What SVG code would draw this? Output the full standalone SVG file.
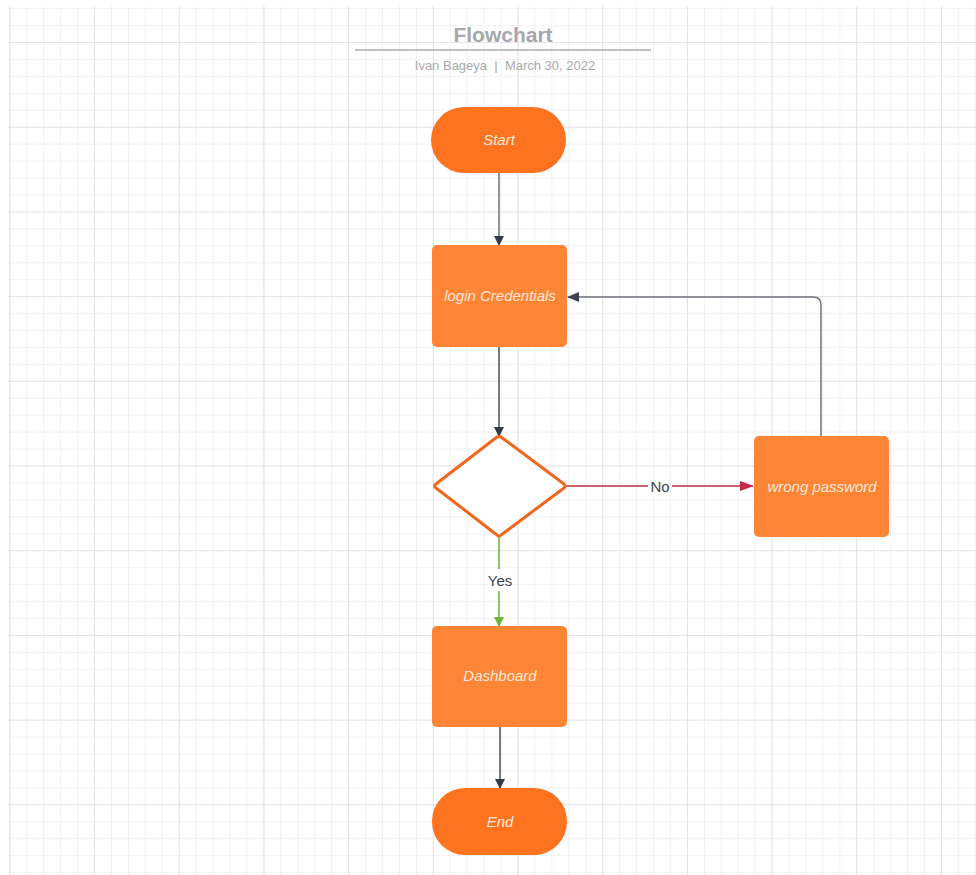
<svg xmlns="http://www.w3.org/2000/svg" width="976" height="875" viewBox="0 0 976 875">
<style>
.term{fill:#fd7320}
.proc{fill:#fe8535}
.lbl{font-family:"Liberation Sans",Arial,sans-serif;font-size:15px;font-style:italic;fill:#fde9dc;text-anchor:middle;dominant-baseline:central}
.edge{fill:none;stroke-width:1.5}
.elbl{font-family:"Liberation Sans",Arial,sans-serif;font-size:15px;fill:#3f4550;text-anchor:middle;dominant-baseline:central}
</style>
<defs>
<pattern id="minor" x="9.3" y="-42.7" width="16.94" height="16.94" patternUnits="userSpaceOnUse">
<path d="M0 0 H16.94 M0 0 V16.94" stroke="#e6e6e8" stroke-width="1" fill="none"/>
</pattern>
<pattern id="major" x="9.3" y="-42.7" width="84.7" height="84.7" patternUnits="userSpaceOnUse">
<path d="M0 0 H84.7 M0 0 V84.7" stroke="#d8d8dc" stroke-width="1.2" fill="none"/>
</pattern>
<marker id="ahDark" markerWidth="10" markerHeight="10" refX="9" refY="5" orient="auto" markerUnits="userSpaceOnUse"><path d="M0 0 L10 5 L0 10 Z" fill="#333a45"/></marker>
<marker id="ahGray" markerWidth="12" markerHeight="10" refX="11" refY="5" orient="auto" markerUnits="userSpaceOnUse"><path d="M0 0 L12 5 L0 10 Z" fill="#3d4450"/></marker>
<marker id="ahRed" markerWidth="14" markerHeight="10" refX="13" refY="5" orient="auto" markerUnits="userSpaceOnUse"><path d="M0 0 L14 5 L0 10 Z" fill="#c42a45"/></marker>
<marker id="ahGreen" markerWidth="10" markerHeight="12" refX="9" refY="5" orient="auto" markerUnits="userSpaceOnUse"><path d="M0 0 L10 5 L0 10 Z" fill="#6ab43c"/></marker>
</defs>
<rect width="976" height="875" fill="#ffffff"/>
<rect x="8" y="6" width="968" height="869" fill="url(#minor)"/>
<rect x="8" y="6" width="968" height="869" fill="url(#major)"/>

<g id="title">
<text x="503" y="34" font-family="'Liberation Sans',Arial,sans-serif" font-size="21" font-weight="bold" fill="#a4a7ab" text-anchor="middle" dominant-baseline="central">Flowchart</text>
<line x1="355" y1="50" x2="651" y2="50" stroke="#a9abae" stroke-width="1.5"/>
<text x="505" y="65" font-family="'Liberation Sans',Arial,sans-serif" font-size="13" fill="#a8aaad" text-anchor="middle" dominant-baseline="central" xml:space="preserve">Ivan Bageya  |  March 30, 2022</text>
</g>

<g id="connectors">
<line class="edge" x1="499" y1="173" x2="499" y2="245" stroke="#6e737a" marker-end="url(#ahDark)"/>
<line class="edge" x1="499" y1="347" x2="499" y2="436" stroke="#4a5059" marker-end="url(#ahDark)"/>
<path class="edge" d="M566 486 H648 M672 486 H753" stroke="#c42a45" marker-end="url(#ahRed)"/>
<text class="elbl" x="660" y="486">No</text>
<path class="edge" d="M821 436 V305 Q821 297 813 297 H568" stroke="#6e737a" marker-end="url(#ahGray)"/>
<path class="edge" d="M499 537 V569 M499 591 V626" stroke="#6ab43c" marker-end="url(#ahGreen)"/>
<text class="elbl" x="500" y="580">Yes</text>
<line class="edge" x1="500" y1="727" x2="500" y2="788" stroke="#4a5059" marker-end="url(#ahDark)"/>
</g>

<g id="start">
<rect class="term" x="431" y="107" width="135" height="66" rx="33"/>
<text class="lbl" x="499" y="139">Start</text>
</g>
<g id="login">
<rect class="proc" x="432" y="245" width="135" height="102" rx="5"/>
<text class="lbl" x="500" y="295">login Credentials</text>
</g>
<g id="decision">
<path d="M499 437 Q500 436 501 437 L564 484 Q566 486 564 488 L501 535 Q499 537 497 535 L436 488 Q433 486 436 484 L497 437 Z" fill="#ffffff" stroke="#f0661a" stroke-width="3" stroke-linejoin="round"/>
</g>
<g id="wrong">
<rect class="proc" x="754" y="436" width="135" height="101" rx="5"/>
<text class="lbl" x="822" y="486">wrong password</text>
</g>
<g id="dashboard">
<rect class="proc" x="432" y="626" width="135" height="101" rx="5"/>
<text class="lbl" x="500" y="675">Dashboard</text>
</g>
<g id="end">
<rect class="term" x="432" y="788" width="135" height="67" rx="33"/>
<text class="lbl" x="500" y="821">End</text>
</g>
</svg>
